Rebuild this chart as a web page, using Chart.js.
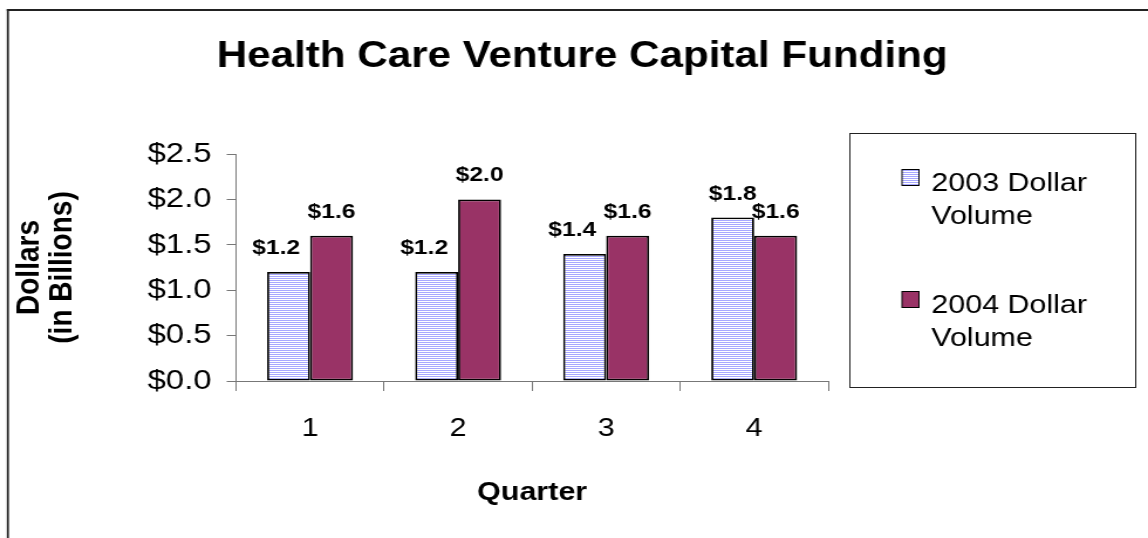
<!DOCTYPE html>
<html>
<head>
<meta charset="utf-8">
<title>Health Care Venture Capital Funding</title>
<script src="https://cdn.jsdelivr.net/npm/chart.js@4.4.1/dist/chart.umd.min.js"></script>
<style>
    html, body { margin: 0; padding: 0; background: #fff; overflow: hidden; }
    #vcChart { display: block; }
</style>
</head>
<body>
<!-- the original picture is stretched sideways, so the canvas is drawn narrower and widened by CSS -->
<canvas id="vcChart" width="980" height="538" style="width:1148px;height:538px"></canvas>
<script>
const quarters = ['1', '2', '3', '4'];
const volume2003 = [1.2, 1.2, 1.4, 1.8];
const volume2004 = [1.6, 2.0, 1.6, 1.6];
const seriesNames = ['2003 Dollar Volume', '2004 Dollar Volume'];
const yTickMin = 0;
const yTickMax = 2.5;
const yTickStep = 0.5;

const FONT = '"Liberation Sans", Arial, sans-serif';
const PLUM = '#993366';

// narrow horizontal stripes, like the Excel fill
function makeStripes() {
    const c = document.createElement('canvas');
    c.width = 4;
    c.height = 2;
    const g = c.getContext('2d');
    g.fillStyle = '#ffffff';
    g.fillRect(0, 0, 4, 2);
    g.fillStyle = '#a8a8ff';
    g.fillRect(0, 0, 4, 1);
    return g.createPattern(c, 'repeat');
}
const stripes = makeStripes();

function money(v) {
    return '$' + Number(v).toFixed(1);
}

// outer frame (only left and top edges show in the picture) + title
const framePlugin = {
    id: 'frame',
    beforeDraw(chart) {
        const ctx = chart.ctx;
        ctx.save();
        ctx.fillStyle = '#fff';
        ctx.fillRect(0, 0, chart.width, chart.height);
        ctx.fillStyle = '#222';
        ctx.fillRect(5.8, 9, 1.8, chart.height - 9);
        ctx.fillRect(5.8, 9, chart.width, 2);
        ctx.fillStyle = '#000';
        ctx.font = 'bold 36px ' + FONT;
        ctx.textAlign = 'center';
        ctx.textBaseline = 'alphabetic';
        ctx.fillText('Health Care Venture Capital Funding', 497, 67);
        ctx.restore();
    }
};

// value labels above the bars; a label that would run into the taller
// neighbour bar is pushed left, as Excel did
const valueLabels = {
    id: 'valueLabels',
    afterDatasetsDraw(chart) {
        const ctx = chart.ctx;
        ctx.save();
        ctx.fillStyle = '#000';
        ctx.font = 'bold 21px ' + FONT;
        ctx.textAlign = 'center';
        ctx.textBaseline = 'alphabetic';
        const n = chart.data.datasets.length;
        chart.data.datasets.forEach((ds, i) => {
            chart.getDatasetMeta(i).data.forEach((bar, j) => {
                const text = money(ds.data[j]);
                const base = bar.y - 18;
                let x = bar.x;
                if (i < n - 1) {
                    const next = chart.getDatasetMeta(i + 1).data[j];
                    const w = ctx.measureText(text).width;
                    if (next.y < base && x + w / 2 > bar.x + bar.width / 2) {
                        x = bar.x + bar.width / 2 - 8.5 - w / 2;
                    }
                }
                ctx.fillText(text, x, base);
            });
        });
        ctx.restore();
    }
};

// boxed legend on the right, with wrapped labels
const boxLegend = {
    id: 'boxLegend',
    afterDraw(chart) {
        const ctx = chart.ctx;
        const box = { x: 725, y: 133, w: 244, h: 254 };
        ctx.save();
        ctx.strokeStyle = '#222';
        ctx.lineWidth = 1;
        ctx.strokeRect(box.x + 0.5, box.y + 0.5, box.w, box.h);

        ctx.font = '26px ' + FONT;
        ctx.textAlign = 'left';
        ctx.textBaseline = 'alphabetic';
        chart.data.datasets.forEach((ds, i) => {
            const top = 169 + i * 122;
            ctx.fillStyle = ds.backgroundColor;
            ctx.fillRect(770, top, 14.5, 17);
            ctx.strokeStyle = '#000';
            ctx.strokeRect(770, top + 0.5, 14.5, 16);

            // word wrap at the box width
            const words = ds.label.split(' ');
            const lines = [];
            let line = '';
            words.forEach(w => {
                const test = line ? line + ' ' + w : w;
                if (ctx.measureText(test).width > 160 && line) {
                    lines.push(line);
                    line = w;
                } else {
                    line = test;
                }
            });
            lines.push(line);
            ctx.fillStyle = '#000';
            lines.forEach((t, k) => ctx.fillText(t, 795, top + 22 + k * 33));
        });
        ctx.restore();
    }
};

new Chart(document.getElementById('vcChart'), {
    type: 'bar',
    data: {
        labels: quarters,
        datasets: [{
            label: seriesNames[0],
            data: volume2003,
            backgroundColor: stripes,
            borderColor: '#000',
            borderWidth: 1.8,
            borderSkipped: false,
            categoryPercentage: 0.58,
            barPercentage: 1.0
        }, {
            label: seriesNames[1],
            data: volume2004,
            backgroundColor: PLUM,
            borderColor: '#000',
            borderWidth: 1.8,
            borderSkipped: false,
            categoryPercentage: 0.58,
            barPercentage: 1.0
        }]
    },
    options: {
        responsive: false,
        animation: false,
        devicePixelRatio: 1,
        layout: {
            padding: { top: 154, right: 273, bottom: 0, left: 0 }
        },
        plugins: {
            legend: { display: false },
            title: { display: false },
            tooltip: { enabled: false }
        },
        scales: {
            x: {
                afterFit: scale => { scale.height = 157; },
                ticks: {
                    color: '#000',
                    padding: 22,
                    font: { family: FONT, size: 26 }
                },
                grid: {
                    offset: true,
                    drawOnChartArea: false,
                    tickLength: 10,
                    color: '#777'
                },
                border: { color: '#777', width: 1 },
                title: {
                    display: true,
                    text: 'Quarter',
                    color: '#000',
                    font: { family: FONT, size: 26, weight: 'bold' },
                    padding: { top: 0, bottom: 30 }
                }
            },
            y: {
                min: yTickMin,
                max: yTickMax,
                afterFit: scale => { scale.width = 201.5; },
                ticks: {
                    stepSize: yTickStep,
                    color: '#000',
                    padding: 13,
                    font: { family: FONT, size: 28 },
                    callback: v => money(v)
                },
                grid: {
                    drawOnChartArea: false,
                    tickLength: 8,
                    color: '#777'
                },
                border: { color: '#777', width: 1 },
                title: {
                    display: true,
                    text: ['Dollars', '(in Billions)'],
                    color: '#000',
                    font: { family: FONT, size: 28, weight: 'bold', lineHeight: 0.98 },
                    padding: { top: 12, bottom: 0 }
                }
            }
        }
    },
    plugins: [framePlugin, valueLabels, boxLegend]
});
</script>
</body>
</html>
